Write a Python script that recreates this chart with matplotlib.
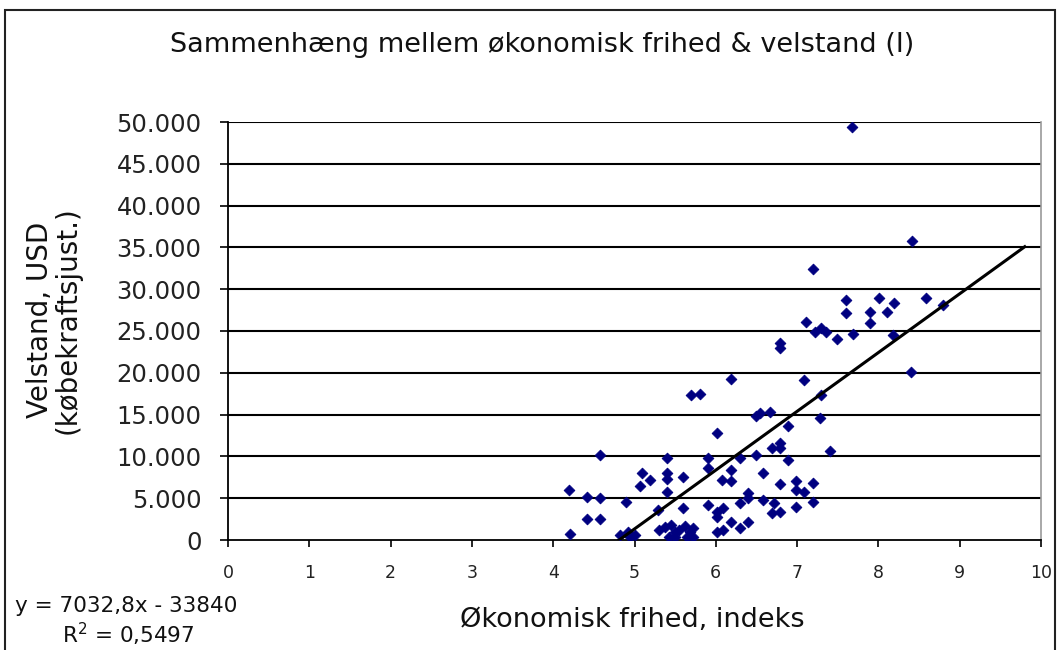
import matplotlib
matplotlib.use("Agg")
import matplotlib.pyplot as plt
from matplotlib.ticker import FuncFormatter
from matplotlib.patches import Rectangle
import numpy as np

# Data
frihed = [4.20, 4.21, 4.41, 4.41, 4.58, 4.58, 4.58, 4.90, 4.82, 4.92, 5.00, 4.95,
          5.09, 5.19, 5.07, 5.40, 5.40, 5.40, 5.40, 5.60, 5.60, 5.29,
          5.30, 5.38, 5.45, 5.50, 5.55, 5.62, 5.65, 5.42, 5.50, 5.72, 5.72, 5.68,
          6.79, 6.79, 6.19, 5.70, 5.80, 6.54, 6.67, 6.50, 6.89, 6.01,
          6.79, 6.79, 6.69, 6.50, 6.89, 6.30, 5.91, 5.91, 6.19, 6.08, 6.19, 6.58,
          6.79, 6.99, 6.40, 6.30, 6.40, 6.58, 6.71, 5.91, 6.01, 6.09, 6.69, 6.79,
          6.19, 6.30, 6.40, 6.01, 6.09, 6.99, 6.99, 7.40, 7.19, 7.09, 7.19, 6.01,
          7.22, 7.36, 7.49, 7.09, 7.30, 7.28, 7.69, 8.18, 8.40, 7.60, 7.60, 8.01,
          8.19, 8.59, 7.90, 7.90, 8.10, 7.30, 7.11, 7.68, 8.41, 7.19, 8.80]
velstand = [6000, 700, 5200, 2500, 10200, 5000, 2500, 4500, 600, 1000, 600, 300,
            8000, 7200, 6400, 9800, 8000, 7300, 5800, 7500, 3800, 3600,
            1200, 1500, 1800, 900, 1200, 1700, 400, 400, 300, 1400, 400, 900,
            23600, 23000, 19200, 17300, 17500, 15200, 15300, 14800, 13600, 12800,
            11600, 11000, 11000, 10200, 9600, 9800, 9800, 8600, 8400, 7200, 7000, 8000,
            6700, 7000, 5600, 4400, 5000, 4800, 4400, 4200, 3400, 3800, 3200, 3400,
            2200, 1400, 2200, 1000, 1200, 6000, 4000, 10600, 6800, 5800, 4600, 2800,
            24900, 24900, 24100, 19100, 17300, 14600, 24600, 24500, 20100, 28700, 27200, 29000,
            28400, 29000, 27300, 26000, 27300, 25300, 26100, 49400, 35800, 32400, 28100]

slope = 7032.8
intercept = -33840
trend_x = [4.2, 9.8]
x_ticks = list(range(0, 11))
y_ticks = list(range(0, 50001, 5000))

title = "Sammenhæng mellem økonomisk frihed & velstand (I)"
xlabel = "Økonomisk frihed, indeks"
ylabel = "Velstand, USD\n(købekraftsjust.)"
eq_text = "y = 7032,8x - 33840"
r2_text = "R$^2$ = 0,5497"

W, H = 1062, 650
fig = plt.figure(figsize=(W / 100, H / 100), dpi=100)
fig.patch.set_facecolor("white")

# outer chart border
fig.add_artist(Rectangle((5 / W, -0.05), (1055 - 5) / W, 1.05 - 10 / H,
                         transform=fig.transFigure, fill=False,
                         edgecolor="#222222", linewidth=1.5))

left, right, top, bottom = 228, 1041, 122, 540
ax = fig.add_axes([left / W, 1 - bottom / H, (right - left) / W, (bottom - top) / H])

ax.set_xlim(0, 10)
ax.set_ylim(0, 50000)
ax.set_xticks(x_ticks)
ax.set_yticks(y_ticks)
ax.yaxis.set_major_formatter(FuncFormatter(lambda v, p: f"{int(v):,}".replace(",", ".")))

for yv in y_ticks[1:]:
    ax.axhline(yv, color="black", linewidth=1.5, zorder=1)

ax.scatter(frihed, velstand, marker="D", s=30, color="#000080",
           edgecolors="#000080", linewidths=0.6, zorder=3)

tx = np.array(trend_x)
ax.plot(tx, slope * tx + intercept, color="black", linewidth=2.2, zorder=4)

ax.spines["top"].set_visible(False)
ax.spines["right"].set_color("#999999")
ax.spines["right"].set_linewidth(1.2)
ax.spines["left"].set_color("black")
ax.spines["bottom"].set_color("black")
ax.spines["left"].set_linewidth(1.3)
ax.spines["bottom"].set_linewidth(1.3)

ax.tick_params(axis="y", direction="out", length=6, width=1.2, labelsize=17.5,
               pad=13, labelcolor="#222222")
ax.tick_params(axis="x", direction="out", length=5, width=1.2, labelsize=12.5,
               pad=12, labelcolor="#222222")

fig.text(542 / W, 1 - 45 / H, title, ha="center", va="center", fontsize=19.5,
         color="#111111")
fig.text(632 / W, 1 - 620 / H, xlabel, ha="center", va="center", fontsize=19.5,
         color="#111111")
fig.text(54 / W, 1 - 320 / H, ylabel, ha="center", va="center", rotation=90,
         fontsize=20, color="#111111", linespacing=1.0)
fig.text(126 / W, 1 - 606 / H, eq_text, ha="center", va="center", fontsize=15.5,
         color="#111111")
fig.text(128 / W, 1 - 634 / H, r2_text, ha="center", va="center", fontsize=15.5,
         color="#111111")

fig.savefig("out.png", dpi=100)
